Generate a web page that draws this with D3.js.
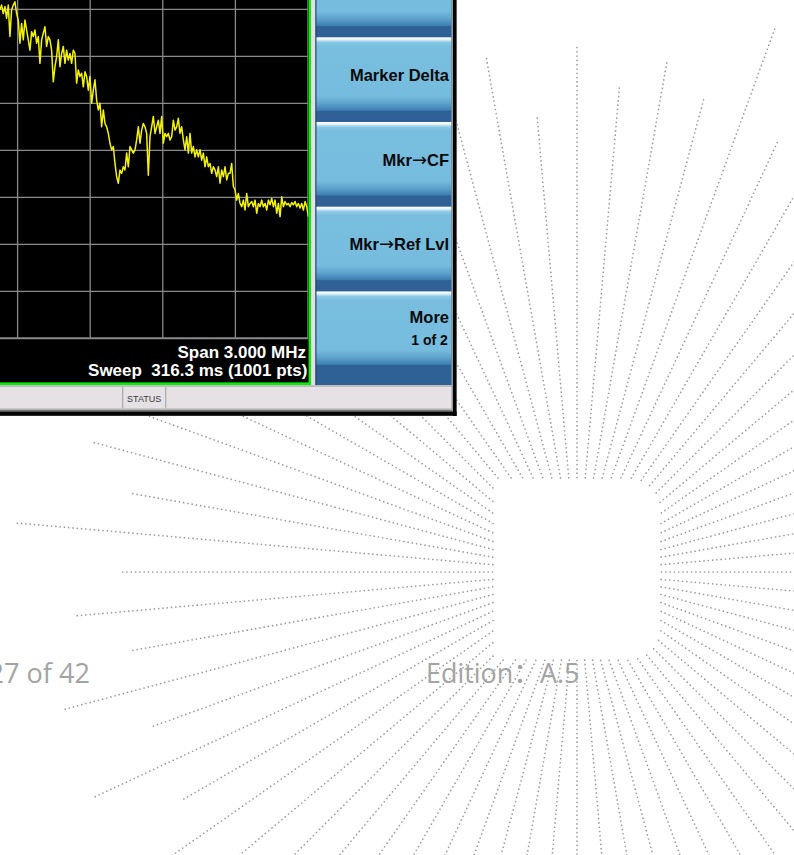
<!DOCTYPE html>
<html>
<head>
<meta charset="utf-8">
<script src="https://cdn.jsdelivr.net/npm/d3@7"></script>
<style>
  body { margin: 0; background: #fff; }
  svg { display: block; }
</style>
</head>
<body>
<script>
// trace, dBm, first visible point is +0.227 MHz from centre
const traceStartMHz = 0.227;
const traceStepMHz = 0.00689;
const traceDbm = [
  -40.1, -39.1, -40.9, -39.4, -41.9, -39.1, -45.8, -40.1, -39.1, -38.4,
  -40.9, -42.3, -47.2, -43.0, -46.5, -42.3, -44.4, -46.5, -48.7, -44.8,
  -45.8, -44.4, -47.2, -45.8, -51.5, -46.5, -45.1, -43.7, -47.9, -45.8,
  -46.5, -48.7, -55.4, -52.2, -50.1, -46.5, -52.2, -49.4, -47.9, -51.5,
  -48.7, -50.8, -49.4, -51.5, -48.7, -49.4, -55.7, -52.9, -54.3, -53.6,
  -56.5, -53.3, -54.3, -57.2, -54.3, -60.0, -57.2, -55.0, -59.3, -61.4,
  -60.0, -65.0, -61.4, -64.3, -65.0, -66.4, -68.5, -69.9, -69.2, -72.8,
  -75.6, -77.0, -74.2, -74.9, -73.5, -74.2, -70.6, -73.5, -69.2, -69.9,
  -70.6, -69.9, -67.8, -65.0, -68.5, -65.7, -64.3, -65.0, -66.4, -75.3,
  -67.1, -65.0, -62.8, -66.4, -65.0, -63.6, -66.4, -62.8, -68.5, -66.4,
  -67.1, -66.4, -67.8, -67.1, -63.6, -65.7, -65.0, -63.2, -66.4, -65.0,
  -67.8, -69.9, -67.1, -70.6, -66.4, -70.6, -69.2, -71.4, -69.9, -71.4,
  -69.9, -72.1, -70.6, -73.5, -71.4, -73.5, -72.8, -74.9, -73.5, -74.2,
  -75.6, -73.5, -77.0, -74.2, -75.6, -73.5, -76.3, -74.9, -74.9, -72.8,
  -77.7, -78.4, -80.6, -79.2, -81.3, -82.0, -80.6, -82.7, -79.2, -82.0,
  -81.3, -80.9, -82.0, -80.6, -83.4, -81.3, -82.0, -80.6, -82.0, -81.3,
  -82.7, -80.6, -81.6, -80.2, -82.0, -80.6, -83.4, -81.3, -84.1, -79.9,
  -82.0, -80.9, -81.6, -81.3, -82.0, -81.1, -81.6, -80.9, -82.0, -81.3,
  -82.3, -81.3, -82.7, -80.9, -82.0, -84.1
];
const gridFreqs = [-1.5, -1.2, -0.9, -0.6, -0.3, 0, 0.3, 0.6, 0.9, 1.2, 1.5];
const gridLevels = [-110, -100, -90, -80, -70, -60, -50, -40, -30, -20, -10];

const softkeys = ["", "Marker Delta", "Mkr\u2192CF", "Mkr\u2192Ref Lvl", "More"];
const softkeySub = ["", "", "", "", "1 of 2"];
const spanLabel = "Span 3.000 MHz";
const sweepLabel = "Sweep  316.3 ms (1001 pts)";
const statusLabel = "STATUS";
const pageLabel = "27 of 42";
const editionLabel = "Edition\uFF1AA.5";

// background sunburst: one dotted ray every 5 degrees, length in px
const rayAngles = [
  0, 5, 10, 15, 20, 25, 30, 35, 40, 45, 50, 55, 60, 65, 70, 75, 80, 85,
  90, 95, 100, 105, 110, 115, 120, 125, 130, 135, 140, 145, 150, 155, 160, 165, 170, 175,
  180, 185, 190, 195, 200, 205, 210, 215, 220, 225, 230, 235, 240, 245, 250, 255, 260, 265,
  270, 275, 280, 285, 290, 295, 300, 305, 310, 315, 320, 325, 330, 335, 340, 345, 350, 355
];
const rayLengths = [
  700, 700, 700, 700, 700, 700, 700, 700, 700, 700, 700, 700, 700, 475, 582, 490, 517, 489,
  527, 457, 523, 700, 700, 700, 700, 700, 700, 700, 700, 700, 700, 700, 700, 502, 455, 564,
  455, 502, 455, 532, 455, 534, 456, 700, 700, 700, 700, 700, 700, 700, 700, 700, 700, 700,
  700, 700, 700, 700, 700, 700, 700, 700, 700, 700, 700, 700, 700, 700, 700, 700, 700, 700
];

const W = 794, H = 855;
const svg = d3.select("body").append("svg")
  .attr("width", W)
  .attr("height", H);

const defs = svg.append("defs");

// ---------- sunburst ----------
const cx = 577, cy = 572;
const box = { x0: 493, x1: 661, y0: 478, y1: 660, r: 32 };

function insideBox(x, y) {
  if (x < box.x0 || x > box.x1 || y < box.y0 || y > box.y1) return false;
  let kx = box.x1 - box.r;
  if (x > kx && y < box.y0 + box.r) return Math.hypot(x - kx, y - (box.y0 + box.r)) <= box.r;
  if (x > kx && y > box.y1 - box.r) return Math.hypot(x - kx, y - (box.y1 - box.r)) <= box.r;
  return true;
}

let rays = rayAngles.map((a, i) => {
  let rad = a * Math.PI / 180;
  let dx = Math.cos(rad), dy = -Math.sin(rad);
  let t = 0;
  while (insideBox(cx + dx * t, cy + dy * t)) t += 0.5;
  let L = rayLengths[i];
  return { x1: cx + dx * t, y1: cy + dy * t, x2: cx + dx * L, y2: cy + dy * L };
});

svg.append("g")
  .selectAll("line")
  .data(rays)
  .enter()
  .append("line")
  .attr("x1", d => d.x1)
  .attr("y1", d => d.y1)
  .attr("x2", d => d.x2)
  .attr("y2", d => d.y2)
  .attr("stroke", "#9a9a9a")
  .attr("stroke-width", 1.7)
  .attr("stroke-linecap", "round")
  .attr("stroke-dasharray", "0 4.3");

// ---------- footer ----------
let footer = svg.append("g")
  .attr("font-family", "'Open Sans', 'Noto Sans CJK SC', sans-serif")
  .attr("font-size", 28)
  .attr("fill", "#a3a3a3");

footer.append("text")
  .attr("x", -11.5).attr("y", 683)
  .attr("textLength", 101.5)
  .attr("lengthAdjust", "spacingAndGlyphs")
  .text(pageLabel);

footer.append("text")
  .attr("x", 426).attr("y", 682.5)
  .attr("textLength", 153.5)
  .attr("lengthAdjust", "spacingAndGlyphs")
  .text(editionLabel);

// ---------- analyser screenshot ----------
let shot = svg.append("g");

// frame pieces
shot.append("rect").attr("x", 0).attr("y", 0).attr("width", 456.5).attr("height", 416).attr("fill", "#d8d8d8");
shot.append("rect").attr("x", 0).attr("y", 0).attr("width", 311).attr("height", 385).attr("fill", "#000");

// grid + trace
let xScale = d3.scaleLinear().domain([-1.5, 1.5]).range([-418, 308]);
let yScale = d3.scaleLinear().domain([-110, -10]).range([338.3, -131.7]);

defs.append("clipPath").attr("id", "gridClip")
  .append("rect").attr("x", 0).attr("y", 0).attr("width", 308.5).attr("height", 339.5);

let plot = shot.append("g").attr("clip-path", "url(#gridClip)");

plot.selectAll("line.v")
  .data(gridFreqs)
  .enter()
  .append("line")
  .attr("class", "v")
  .attr("x1", d => xScale(d)).attr("x2", d => xScale(d))
  .attr("y1", yScale(-10)).attr("y2", yScale(-110))
  .attr("stroke", "#8a8a8a")
  .attr("stroke-width", 1.3);

plot.selectAll("line.h")
  .data(gridLevels)
  .enter()
  .append("line")
  .attr("class", "h")
  .attr("x1", xScale(-1.5)).attr("x2", xScale(1.5))
  .attr("y1", d => yScale(d)).attr("y2", d => yScale(d))
  .attr("stroke", "#8a8a8a")
  .attr("stroke-width", d => d === -110 ? 2.2 : 1.3);

let line = d3.line()
  .x((d, i) => xScale(traceStartMHz + i * traceStepMHz))
  .y(d => yScale(d));

plot.append("path")
  .datum(traceDbm)
  .attr("d", line)
  .attr("fill", "none")
  .attr("stroke", "#f4f400")
  .attr("stroke-width", 1.5)
  .attr("stroke-linejoin", "round");

// annotation under the graticule
let annot = shot.append("g")
  .attr("font-family", "'Liberation Sans', Arial, sans-serif")
  .attr("font-weight", "bold")
  .attr("font-size", 17)
  .attr("fill", "#fff")
  .attr("text-anchor", "end");
annot.append("text").attr("x", 306).attr("y", 357.7).text(spanLabel);
annot.append("text").attr("x", 307.3).attr("y", 376)
  .attr("xml:space", "preserve")
  .style("white-space", "pre")
  .text(sweepLabel);

// green border
shot.append("rect").attr("x", 308.6).attr("y", 0).attr("width", 2.6).attr("height", 385).attr("fill", "#00f000");
shot.append("rect").attr("x", 0).attr("y", 382.4).attr("width", 311.2).attr("height", 2.6).attr("fill", "#00f000");

// light strip between screen and softkeys
shot.append("rect").attr("x", 311.2).attr("y", 0).attr("width", 4.3).attr("height", 386).attr("fill", "#e2e2e2");

// softkey panel
shot.append("rect").attr("x", 315.5).attr("y", 0).attr("width", 136.5).attr("height", 386).attr("fill", "#2f6196");
shot.append("rect").attr("x", 315.5).attr("y", 0).attr("width", 1).attr("height", 386).attr("fill", "#1d3d63");

let grad = defs.append("linearGradient").attr("id", "keyGrad")
  .attr("x1", 0).attr("y1", 0).attr("x2", 0).attr("y2", 1);
[["0%", "#ffffff"], ["2.5%", "#eef7fb"], ["7%", "#8ac8e6"], ["12%", "#79bedf"],
 ["80%", "#76bcde"], ["90%", "#5da2cb"], ["100%", "#3a7cb0"]]
  .forEach(s => grad.append("stop").attr("offset", s[0]).attr("stop-color", s[1]));

let keyTop = d3.scaleLinear().domain([0, 1]).range([-47.4, 37.3]);
let keys = shot.append("g");
keys.selectAll("rect")
  .data(softkeys)
  .enter()
  .append("rect")
  .attr("x", 316.5)
  .attr("y", (d, i) => keyTop(i))
  .attr("width", 135)
  .attr("height", 73.5)
  .attr("fill", "url(#keyGrad)");

let keyText = shot.append("g")
  .attr("font-family", "'Liberation Sans', Arial, sans-serif")
  .attr("font-weight", "bold")
  .attr("fill", "#0a0a0a")
  .attr("text-anchor", "end");
keyText.selectAll("text.main")
  .data(softkeys)
  .enter()
  .append("text")
  .attr("class", "main")
  .attr("x", 449)
  .attr("y", (d, i) => keyTop(i) + (softkeySub[i] ? 31.3 : 43.6))
  .attr("font-size", 16.5)
  .each(function(d) {
    // the arrow glyph looks closer in DejaVu, the rest stays Arial-like
    let parts = d.split("\u2192");
    let t = d3.select(this);
    parts.forEach((p, k) => {
      if (k > 0) {
        t.append("tspan")
          .attr("font-family", "'DejaVu Sans', sans-serif")
          .attr("font-weight", "normal")
          .attr("font-size", 18)
          .text("\u2192");
      }
      t.append("tspan").text(p);
    });
  });
keyText.selectAll("text.sub")
  .data(softkeySub)
  .enter()
  .append("text")
  .attr("class", "sub")
  .attr("x", 447.8)
  .attr("y", (d, i) => keyTop(i) + 53.6)
  .attr("font-size", 14)
  .text(d => d);

// status bar
shot.append("rect").attr("x", 0).attr("y", 385).attr("width", 453).attr("height", 2).attr("fill", "#bdbdbd");
shot.append("rect").attr("x", 0).attr("y", 387).attr("width", 453).attr("height", 22).attr("fill", "#e5e1e5");
shot.append("rect").attr("x", 0).attr("y", 408.5).attr("width", 453).attr("height", 1.5).attr("fill", "#b4b4b4");
shot.append("rect").attr("x", 0).attr("y", 410).attr("width", 453).attr("height", 1.5).attr("fill", "#777");
[122.7, 165.7].forEach(x => {
  shot.append("rect").attr("x", x - 0.6).attr("y", 387).attr("width", 1.2).attr("height", 21.5).attr("fill", "#aaa");
});
shot.append("text")
  .attr("x", 144.2).attr("y", 402)
  .attr("text-anchor", "middle")
  .attr("font-family", "'Liberation Sans', Arial, sans-serif")
  .attr("font-size", 9)
  .attr("fill", "#3a3a3a")
  .text(statusLabel);

// outer black frame (right + bottom)
shot.append("rect").attr("x", 451.5).attr("y", 0).attr("width", 1.6).attr("height", 411).attr("fill", "#9a9a9a");
shot.append("rect").attr("x", 453).attr("y", 0).attr("width", 3.6).attr("height", 416).attr("fill", "#050505");
shot.append("rect").attr("x", 0).attr("y", 411.5).attr("width", 456.6).attr("height", 4.3).attr("fill", "#050505");
</script>
</body>
</html>
